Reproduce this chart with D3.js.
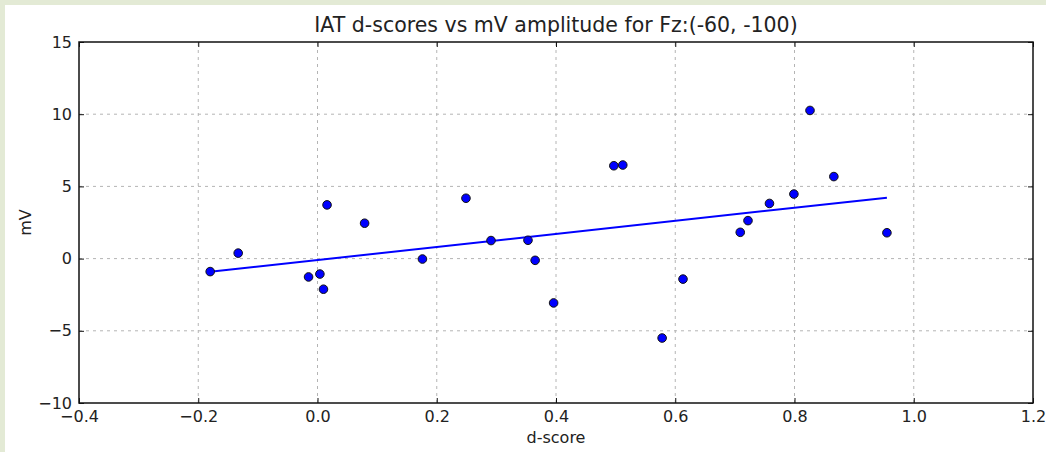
<!DOCTYPE html>
<html>
<head>
<meta charset="utf-8">
<script src="https://cdn.jsdelivr.net/npm/d3@7"></script>
<style>
  body { margin: 0; background: #fff; }
  svg { display: block; }
  text { font-family: "DejaVu Sans", sans-serif; fill: #222; }
</style>
</head>
<body>
<div id="chart"></div>
<script>
// d-score values
const dScores = [-0.180, -0.133, -0.015, 0.004, 0.010, 0.016, 0.079, 0.176, 0.249,
  0.291, 0.353, 0.365, 0.396, 0.497, 0.512, 0.578, 0.613, 0.709, 0.722, 0.758,
  0.799, 0.826, 0.866, 0.955];
// mV amplitude per subject
const mvValues = [-0.90, 0.38, -1.27, -1.07, -2.12, 3.72, 2.45, -0.03, 4.18,
  1.25, 1.27, -0.12, -3.07, 6.43, 6.48, -5.50, -1.42, 1.82, 2.63, 3.82,
  4.47, 10.26, 5.68, 1.79];
// fitted line: [slope, intercept]
const fit = [4.525, -0.10];

const xTicks = [-0.4, -0.2, 0.0, 0.2, 0.4, 0.6, 0.8, 1.0, 1.2];
const yTicks = [-10, -5, 0, 5, 10, 15];

const width = 1046, height = 452;
const margin = { top: 42, right: 13, bottom: 49, left: 79 };

const svg = d3.select("#chart").append("svg")
  .attr("width", width)
  .attr("height", height);

// page background strip (top/left)
svg.append("rect").attr("width", width).attr("height", height).attr("fill", "#e3ead5");
svg.append("rect").attr("x", 5).attr("y", 5).attr("width", width - 5).attr("height", height - 5).attr("fill", "#fff");

const x = d3.scaleLinear().domain([-0.4, 1.2]).range([margin.left, width - margin.right]);
const y = d3.scaleLinear().domain([-10, 15]).range([height - margin.bottom, margin.top]);

const g = svg.append("g");

// grid
g.selectAll("line.vgrid").data(xTicks.slice(1, -1)).join("line")
  .attr("x1", d => x(d)).attr("x2", d => x(d))
  .attr("y1", y(-10)).attr("y2", y(15))
  .attr("stroke", "#b4b4b4").attr("stroke-dasharray", "3,4");
g.selectAll("line.hgrid").data(yTicks.slice(1, -1)).join("line")
  .attr("y1", d => y(d)).attr("y2", d => y(d))
  .attr("x1", x(-0.4)).attr("x2", x(1.2))
  .attr("stroke", "#b4b4b4").attr("stroke-dasharray", "3,4");

// axes: ticks inward on all sides
const fmtX = d => d.toFixed(1).replace("-", "\u2212");
const fmtY = d => String(d).replace("-", "\u2212");

function styleAxis(sel) {
  sel.select(".domain").remove();
  sel.selectAll(".tick line").attr("stroke", "#111");
  sel.selectAll(".tick text").style("font-size", "16px").attr("fill", "#222");
}

g.append("g").attr("transform", `translate(0,${y(-10)})`)
  .call(d3.axisBottom(x).tickValues(xTicks).tickFormat(fmtX).tickSizeInner(-5).tickPadding(8))
  .call(styleAxis);
g.append("g").attr("transform", `translate(0,${y(15)})`)
  .call(d3.axisTop(x).tickValues(xTicks).tickFormat("").tickSizeInner(-5))
  .call(styleAxis);
g.append("g").attr("transform", `translate(${x(-0.4)},0)`)
  .call(d3.axisLeft(y).tickValues(yTicks).tickFormat(fmtY).tickSizeInner(-5).tickPadding(7))
  .call(styleAxis);
g.append("g").attr("transform", `translate(${x(1.2)},0)`)
  .call(d3.axisRight(y).tickValues(yTicks).tickFormat("").tickSizeInner(-5))
  .call(styleAxis);

// frame
g.append("rect")
  .attr("x", x(-0.4)).attr("y", y(15))
  .attr("width", x(1.2) - x(-0.4)).attr("height", y(-10) - y(15))
  .attr("fill", "none").attr("stroke", "#111").attr("stroke-width", 1.5);

// regression line
const xMin = d3.min(dScores), xMax = d3.max(dScores);
g.append("line")
  .attr("x1", x(xMin)).attr("y1", y(fit[0] * xMin + fit[1]))
  .attr("x2", x(xMax)).attr("y2", y(fit[0] * xMax + fit[1]))
  .attr("stroke", "#0000ff").attr("stroke-width", 2);

// points
g.selectAll("circle").data(dScores).join("circle")
  .attr("cx", d => x(d))
  .attr("cy", (d, i) => y(mvValues[i]))
  .attr("r", 4.3)
  .attr("fill", "#0000ff")
  .attr("stroke", "#111")
  .attr("stroke-width", 1);

// labels
svg.append("text")
  .attr("x", (x(-0.4) + x(1.2)) / 2).attr("y", 32)
  .attr("text-anchor", "middle").style("font-size", "20.5px")
  .text("IAT d-scores vs mV amplitude for Fz:(-60, -100)");
svg.append("text")
  .attr("x", (x(-0.4) + x(1.2)) / 2).attr("y", 443)
  .attr("text-anchor", "middle").style("font-size", "16px")
  .text("d-score");
svg.append("text")
  .attr("transform", `translate(31,${(y(15) + y(-10)) / 2}) rotate(-90)`)
  .attr("text-anchor", "middle").style("font-size", "16px")
  .text("mV");
</script>
</body>
</html>
